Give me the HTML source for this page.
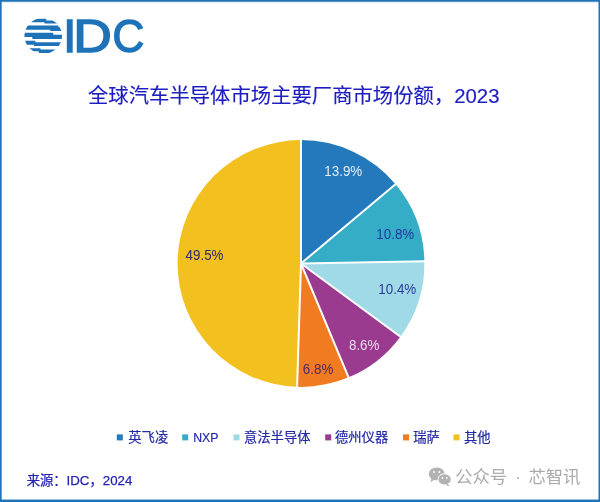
<!DOCTYPE html>
<html lang="zh-CN">
<head>
<meta charset="utf-8">
<title>全球汽车半导体市场主要厂商市场份额，2023</title>
<style>
html,body{margin:0;padding:0;background:#fff;}
body{width:600px;height:502px;overflow:hidden;position:relative;font-family:"Liberation Sans","Noto Sans CJK SC",sans-serif;}
.bd{position:absolute;pointer-events:none;}
#bt{left:0;top:0;width:600px;height:3px;background:linear-gradient(to bottom,#1E73B8 0,#1E73B8 1.1px,rgba(30,115,184,0) 2.7px);}
#bb{left:0;bottom:0;width:600px;height:4px;background:linear-gradient(to top,#1E73B8 0,#1E73B8 1.6px,rgba(30,115,184,0) 3.2px);}
#bl{left:0;top:0;width:3px;height:502px;background:linear-gradient(to right,#1E73B8 0,#1E73B8 1.0px,rgba(30,115,184,0) 2.4px);}
#br{right:0;top:0;width:3px;height:502px;background:linear-gradient(to left,#1E73B8 0,#1E73B8 0.8px,rgba(30,115,184,0) 2.2px);}
svg{position:absolute;left:0;top:0;}
.cjk{font-family:"Liberation Sans","Noto Sans CJK SC",sans-serif;}
</style>
</head>
<body>
<svg width="600" height="502" viewBox="0 0 600 502">
<!-- IDC logo globe -->
<defs>
<clipPath id="globe"><ellipse cx="43.2" cy="35.9" rx="18.8" ry="17.9"/></clipPath>
</defs>
<g clip-path="url(#globe)" fill="#1E73B8">
<rect x="20" y="18.8" width="26.3" height="3.5" rx="0.6"/><rect x="44.5" y="20.5" width="20" height="3.1" rx="0.6"/>
<rect x="20" y="25.4" width="38.5" height="4.4" rx="0.6"/><rect x="50.2" y="27.1" width="15" height="4" rx="0.6"/>
<rect x="20" y="32.8" width="33.3" height="4.2" rx="0.6"/><rect x="32.3" y="34.8" width="32" height="4.2" rx="0.6"/>
<rect x="20" y="40.7" width="15.3" height="4" rx="0.6"/><rect x="34" y="42.2" width="30" height="3.8" rx="0.6"/>
<rect x="20" y="48.2" width="20.6" height="3" rx="0.6"/><rect x="38.8" y="49.5" width="20" height="3.5" rx="0.6"/>
</g>
<g font-family="Liberation Sans, sans-serif" font-size="46.8" fill="#1E73B8" stroke="#1E73B8" stroke-width="1.5" stroke-linejoin="miter">
<text transform="translate(63.13 51.75)">I</text><text transform="translate(73.18 51.75) scale(1.14 1)">D</text><text transform="translate(112.47 51.75) scale(0.941 1)">C</text>
</g>
<!-- title -->
<text class="cjk" x="88" y="103" font-size="20.35" fill="#1D1DC2" stroke="#1D1DC2" stroke-width="0.15">全球汽车半导体市场主要厂商市场份额，2023</text>
<!-- pie -->
<path d="M301.0 263.5L301.00 140.10A123.4 123.4 0 0 1 395.59 184.25Z" fill="#2479BD"/>
<path d="M301.0 263.5L395.59 184.25A123.4 123.4 0 0 1 424.38 261.17Z" fill="#35ADC6"/>
<path d="M301.0 263.5L424.38 261.17A123.4 123.4 0 0 1 400.37 336.66Z" fill="#A0DAE6"/>
<path d="M301.0 263.5L400.37 336.66A123.4 123.4 0 0 1 348.58 377.36Z" fill="#9B3B90"/>
<path d="M301.0 263.5L348.58 377.36A123.4 123.4 0 0 1 297.12 386.84Z" fill="#F07B20"/>
<path d="M301.0 263.5L297.12 386.84A123.4 123.4 0 0 1 301.00 140.10Z" fill="#F2C01F"/>
<g stroke="#fff" stroke-width="2" stroke-linecap="butt">
<line x1="301.0" y1="263.5" x2="301.00" y2="139.10"/>
<line x1="301.0" y1="263.5" x2="396.35" y2="183.60"/>
<line x1="301.0" y1="263.5" x2="425.38" y2="261.16"/>
<line x1="301.0" y1="263.5" x2="401.18" y2="337.25"/>
<line x1="301.0" y1="263.5" x2="348.97" y2="378.28"/>
<line x1="301.0" y1="263.5" x2="297.09" y2="387.84"/>
</g>
<g font-family="Liberation Sans, sans-serif" font-size="14.3" text-anchor="middle">
<text transform="translate(343.3 175.9) scale(0.935 1)" fill="#E4EEF8">13.9%</text>
<text transform="translate(395.3 239.4) scale(0.935 1)" fill="#1D3C9E">10.8%</text>
<text transform="translate(397.3 294.4) scale(0.935 1)" fill="#2B3A9B">10.4%</text>
<text transform="translate(364.2 349.9) scale(0.935 1)" fill="#EBD8EA">8.6%</text>
<text transform="translate(318.1 374.4) scale(0.935 1)" fill="#4A2A6A">6.8%</text>
<text transform="translate(204.5 259.9) scale(0.935 1)" fill="#2B2872">49.5%</text>
</g>
<!-- legend -->
<g>
<rect x="116.8" y="434.4" width="6" height="6" fill="#2479BD"/>
<rect x="182.2" y="434.4" width="6" height="6" fill="#35ADC6"/>
<rect x="233.5" y="434.4" width="6" height="6" fill="#A0DAE6"/>
<rect x="325.2" y="434.4" width="6" height="6" fill="#9B3B90"/>
<rect x="403" y="434.4" width="6" height="6" fill="#F07B20"/>
<rect x="453.5" y="434.4" width="6" height="6" fill="#F2C01F"/>
</g>
<g class="cjk" font-size="13.3" fill="#2228A6" stroke="#2228A6" stroke-width="0.2">
<text x="128.3" y="442.3">英飞凌</text>
<text x="193.2" y="442.3" textLength="25.2" lengthAdjust="spacingAndGlyphs">NXP</text>
<text x="244" y="442.3">意法半导体</text>
<text x="335" y="442.3">德州仪器</text>
<text x="413.3" y="442.3">瑞萨</text>
<text x="464" y="442.3">其他</text>
</g>
<!-- source -->
<text class="cjk" x="26.7" y="484.6" font-size="13.3" fill="#2525B8" stroke="#2525B8" stroke-width="0.25">来源：IDC，2024</text>
<!-- watermark -->
<g transform="translate(0 0.6)"><g fill="#B2B2B2">
<ellipse cx="436.7" cy="473.3" rx="8" ry="6.4"/>
<path d="M431.5 478 L430.3 481.6 L434.5 479.2Z"/>
<ellipse cx="444.6" cy="478.8" rx="6.6" ry="5.6" stroke="#fff" stroke-width="1"/>
<path d="M448 483.4 L449.6 486 L445.6 484.4Z"/>
</g>
<g fill="#fff">
<circle cx="434" cy="471.4" r="1"/><circle cx="439.4" cy="471.4" r="1"/>
<circle cx="442.4" cy="477.4" r="0.9"/><circle cx="446.8" cy="477.4" r="0.9"/>
</g></g>
<text class="cjk" y="483.3" font-size="17.3" fill="#ABABAB"><tspan x="455.2">公众号</tspan><tspan x="510.5"> · </tspan><tspan x="528.4">芯智讯</tspan></text>
</svg>
<div class="bd" id="bt"></div><div class="bd" id="bb"></div><div class="bd" id="bl"></div><div class="bd" id="br"></div>
</body>
</html>
